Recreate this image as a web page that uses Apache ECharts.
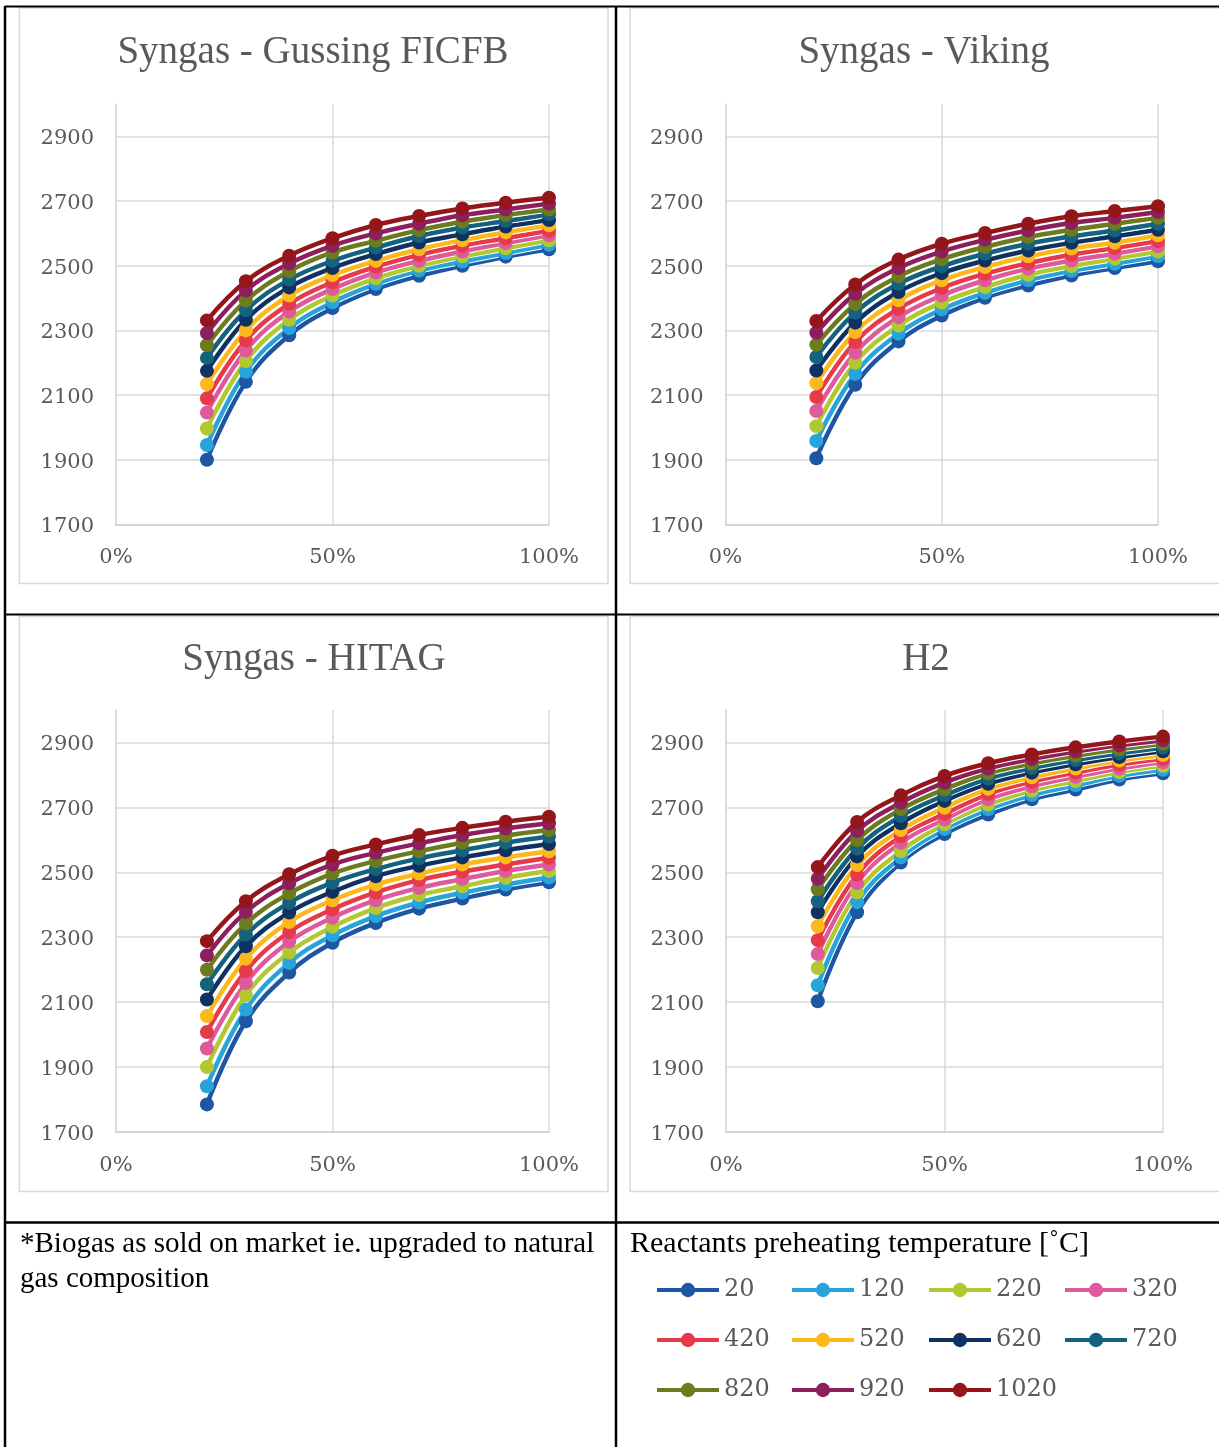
<!DOCTYPE html>
<html>
<head>
<meta charset="utf-8">
<title>Adiabatic flame temperature vs. load</title>
<script src="https://cdn.jsdelivr.net/npm/echarts@6/dist/echarts.min.js"></script>
<style>
  html, body { margin: 0; padding: 0; background: #fff; }
  #chart { width: 1219px; height: 1447px; }
</style>
</head>
<body>
<div id="chart"></div>
<script>
// Load fraction in percent (x values)
const loads = [21, 30, 40, 50, 60, 70, 80, 90, 100];

// Reactants preheating temperature [°C] (one series per value)
const temps = ['20', '120', '220', '320', '420', '520', '620', '720', '820', '920', '1020'];
const tempColors = ['#1E56A3', '#27A5DA', '#B2C831', '#DD5B9C', '#E6394A', '#FDB91B',
                    '#0F3263', '#15627F', '#6B7B1E', '#8D1F5C', '#94161A'];

// Y axis tick labels
const yTicks = [1700, 1900, 2100, 2300, 2500, 2700, 2900];
// X axis tick labels (percent)
const xTicks = [0, 50, 100];

// Syngas - Gussing FICFB, one row per preheating temperature
const gussingFicfb = [
  [1900, 2141, 2285, 2369, 2428, 2469, 2500, 2528, 2551],
  [1946, 2172, 2307, 2387, 2444, 2485, 2513, 2539, 2565],
  [1997, 2205, 2333, 2408, 2461, 2500, 2529, 2554, 2579],
  [2046, 2238, 2358, 2428, 2479, 2515, 2544, 2570, 2594],
  [2090, 2269, 2382, 2449, 2497, 2534, 2562, 2585, 2608],
  [2134, 2300, 2408, 2471, 2515, 2551, 2579, 2603, 2625],
  [2175, 2333, 2433, 2493, 2536, 2572, 2597, 2621, 2641],
  [2215, 2362, 2457, 2515, 2556, 2592, 2618, 2638, 2659],
  [2254, 2392, 2483, 2541, 2577, 2610, 2636, 2657, 2674],
  [2292, 2423, 2507, 2562, 2600, 2630, 2656, 2674, 2692],
  [2331, 2452, 2531, 2585, 2626, 2654, 2677, 2695, 2710]
];

// Syngas - Viking
const viking = [
  [1905, 2132, 2266, 2346, 2401, 2439, 2470, 2493, 2514],
  [1958, 2166, 2290, 2365, 2416, 2455, 2484, 2506, 2529],
  [2004, 2200, 2315, 2386, 2434, 2472, 2499, 2522, 2544],
  [2051, 2231, 2341, 2408, 2455, 2491, 2516, 2537, 2560],
  [2094, 2264, 2367, 2431, 2475, 2508, 2534, 2555, 2576],
  [2137, 2295, 2393, 2455, 2496, 2529, 2553, 2571, 2594],
  [2176, 2324, 2419, 2477, 2516, 2547, 2571, 2591, 2611],
  [2218, 2355, 2444, 2498, 2537, 2568, 2591, 2609, 2630],
  [2256, 2382, 2467, 2520, 2558, 2589, 2611, 2630, 2648],
  [2293, 2413, 2493, 2544, 2580, 2609, 2632, 2648, 2666],
  [2329, 2442, 2519, 2568, 2601, 2630, 2653, 2669, 2684]
];

// Syngas - HITAG
const hitag = [
  [1785, 2041, 2191, 2283, 2344, 2388, 2419, 2447, 2469],
  [1841, 2077, 2221, 2306, 2365, 2407, 2437, 2462, 2484],
  [1900, 2121, 2253, 2332, 2390, 2430, 2457, 2483, 2504],
  [1957, 2159, 2286, 2360, 2414, 2452, 2479, 2504, 2524],
  [2008, 2196, 2316, 2386, 2438, 2476, 2502, 2524, 2545],
  [2057, 2234, 2347, 2414, 2462, 2496, 2524, 2546, 2565],
  [2108, 2272, 2376, 2440, 2488, 2520, 2546, 2568, 2587],
  [2155, 2308, 2406, 2468, 2510, 2543, 2568, 2591, 2610],
  [2200, 2342, 2435, 2496, 2535, 2565, 2591, 2613, 2630],
  [2244, 2378, 2466, 2524, 2560, 2589, 2615, 2635, 2651],
  [2288, 2411, 2494, 2551, 2586, 2615, 2637, 2656, 2671]
];

// H2
const hydrogen = [
  [2103, 2377, 2530, 2618, 2678, 2725, 2755, 2786, 2805],
  [2152, 2408, 2546, 2633, 2694, 2738, 2768, 2797, 2816],
  [2205, 2438, 2565, 2648, 2709, 2752, 2781, 2809, 2828],
  [2248, 2467, 2591, 2663, 2725, 2765, 2794, 2820, 2839],
  [2291, 2493, 2611, 2680, 2741, 2779, 2807, 2832, 2850],
  [2334, 2522, 2630, 2699, 2757, 2793, 2820, 2844, 2861],
  [2377, 2549, 2651, 2720, 2773, 2807, 2833, 2855, 2873],
  [2411, 2573, 2673, 2737, 2789, 2821, 2846, 2867, 2884],
  [2448, 2599, 2694, 2756, 2805, 2835, 2859, 2879, 2896],
  [2480, 2627, 2714, 2776, 2820, 2849, 2872, 2891, 2907],
  [2516, 2655, 2737, 2797, 2836, 2863, 2885, 2903, 2918]
];

const panelTitles = ['Syngas - Gussing FICFB', 'Syngas - Viking', 'Syngas - HITAG', 'H2'];
const panelData = [gussingFicfb, viking, hitag, hydrogen];

const noteText = ['*Biogas as sold on market ie. upgraded to natural', 'gas composition'];
const legendTitle = 'Reactants preheating temperature [\u02DAC]';

// ---- layout ----
const SERIF = '"Liberation Serif", "DejaVu Serif", serif';
const SERIF_WIDE = '"DejaVu Serif", "Liberation Serif", serif';
const GRAY_TEXT = '#595959';
const GRID_LINE = '#D9D9D9';

const panels = [
  { grid: { left: 116, top: 104, width: 433, height: 420.5 }, title: [313, 53], box: [19.5, 8, 588.5, 575.5] },
  { grid: { left: 725.5, top: 104, width: 432.5, height: 420.5 }, title: [924, 53], box: [630, 8, 620, 575.5] },
  { grid: { left: 116, top: 710, width: 433, height: 422 }, title: [314, 660], box: [19.5, 616.5, 588.5, 575] },
  { grid: { left: 726, top: 710, width: 437, height: 422 }, title: [926, 660], box: [630, 616.5, 620, 575] }
];

const grids = [], xAxes = [], yAxes = [], series = [], graphics = [];

// y split lines: one per tick plus the axis max, which stays hidden
const ySplitColors = yTicks.map(() => GRID_LINE).concat(['rgba(0,0,0,0)']);

panels.forEach((p, i) => {
  grids.push(Object.assign({ containLabel: false }, p.grid));
  xAxes.push({
    type: 'value', gridIndex: i,
    min: xTicks[0], max: xTicks[xTicks.length - 1], interval: xTicks[1] - xTicks[0],
    axisLine: { show: true, lineStyle: { color: '#CFCFCF', width: 1.5 } },
    axisTick: { show: false },
    splitLine: { show: true, lineStyle: { color: GRID_LINE, width: 1.5 } },
    axisLabel: { formatter: v => v + '%', color: GRAY_TEXT, fontFamily: SERIF_WIDE, fontSize: 21, margin: 23 }
  });
  yAxes.push({
    type: 'value', gridIndex: i,
    min: yTicks[0], max: 3000, interval: yTicks[1] - yTicks[0],
    axisLine: { show: true, lineStyle: { color: GRID_LINE, width: 1.5 } },
    axisTick: { show: false },
    splitLine: { show: true, lineStyle: { color: ySplitColors, width: 1.5 } },
    axisLabel: { formatter: v => String(v), color: GRAY_TEXT, fontFamily: SERIF_WIDE, fontSize: 21,
                 margin: 22, showMaxLabel: false, verticalAlign: 'top', lineHeight: 5 }
  });

  const rows = panelData[i];
  temps.forEach((t, k) => {
    const pts = loads.map((x, j) => [x, rows[k][j]]);
    // white edge under each curve
    series.push({
      type: 'line', name: t + ' edge', xAxisIndex: i, yAxisIndex: i,
      data: pts, smooth: 0.4, symbol: 'none', silent: true,
      lineStyle: { color: '#FFFFFF', width: 6.5 },
      emphasis: { disabled: true }, z: 2
    });
    series.push({
      type: 'line', name: t, xAxisIndex: i, yAxisIndex: i,
      data: pts, smooth: 0.4, symbol: 'circle', symbolSize: 14,
      lineStyle: { color: tempColors[k], width: 4.5 },
      itemStyle: { color: tempColors[k] },
      emphasis: { disabled: true }, z: 2
    });
  });

  // chart frame
  graphics.push({
    type: 'rect', silent: true, z: 0,
    shape: { x: p.box[0], y: p.box[1], width: p.box[2], height: p.box[3] },
    style: { fill: 'none', stroke: GRID_LINE, lineWidth: 1.5 }
  });
  // chart title
  graphics.push({
    type: 'text', silent: true, x: p.title[0], y: p.title[1],
    style: {
      text: panelTitles[i], fontFamily: SERIF, fontSize: 39, fill: GRAY_TEXT,
      align: 'center', verticalAlign: 'middle', textAlign: 'center', textVerticalAlign: 'middle'
    }
  });
});

// table rules
const rules = [
  [5, 6, 5, 1447, 2.5],
  [5, 6.5, 1219, 6.5, 2],
  [616, 6, 616, 1447, 2.5],
  [5, 614.5, 1219, 614.5, 2],
  [5, 1222.5, 1219, 1222.5, 2.5]
];
rules.forEach(r => graphics.push({
  type: 'line', silent: true, z: 10,
  shape: { x1: r[0], y1: r[1], x2: r[2], y2: r[3] },
  style: { stroke: '#000000', lineWidth: r[4] }
}));

// footnote and legend heading
noteText.forEach((line, i) => graphics.push({
  type: 'text', silent: true, x: 20, y: 1244 + i * 35,
  style: { text: line, fontFamily: SERIF, fontSize: 29, fill: '#000000',
           align: 'left', verticalAlign: 'middle', textAlign: 'left', textVerticalAlign: 'middle' }
}));
graphics.push({
  type: 'text', silent: true, x: 630, y: 1244,
  style: { text: legendTitle, fontFamily: SERIF, fontSize: 30, fill: '#000000',
           align: 'left', verticalAlign: 'middle', textAlign: 'left', textVerticalAlign: 'middle' }
});

// legend in four fixed columns
const legendCols = [655, 790, 927, 1063];
const legends = legendCols.map((x, c) => ({
  data: temps.filter((_, k) => k % 4 === c),
  orient: 'vertical', left: x, top: 1278, padding: 0,
  itemGap: 26, itemWidth: 62, itemHeight: 18, selectedMode: false,
  lineStyle: { width: 4 },
  textStyle: { fontFamily: SERIF_WIDE, fontSize: 24, color: GRAY_TEXT, lineHeight: 24 }
}));

const chart = echarts.init(document.getElementById('chart'), null, { renderer: 'canvas' });
chart.setOption({
  animation: false,
  backgroundColor: '#FFFFFF',
  grid: grids,
  xAxis: xAxes,
  yAxis: yAxes,
  legend: legends,
  series: series,
  graphic: { elements: graphics }
});
</script>
</body>
</html>
